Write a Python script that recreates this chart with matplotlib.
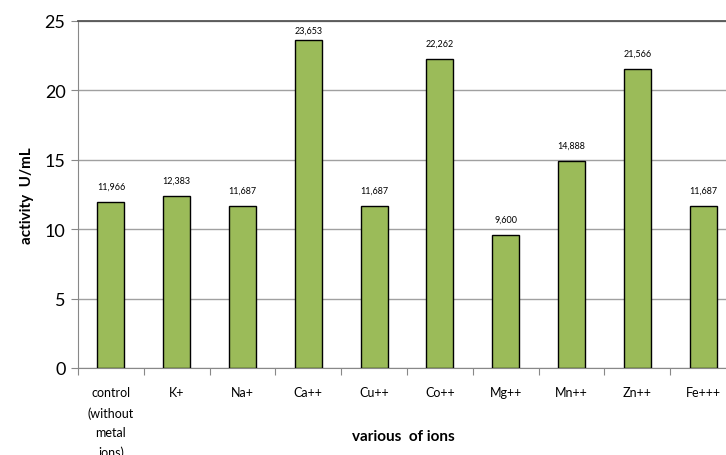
import matplotlib
matplotlib.use("Agg")
import matplotlib.pyplot as plt
import numpy as np

categories = ["control\n(without\nmetal\nions)", "K+", "Na+", "Ca++", "Cu++", "Co++", "Mg++", "Mn++", "Zn++", "Fe+++"]
values = [11.966, 12.383, 11.687, 23.653, 11.687, 22.262, 9.600, 14.888, 21.566, 11.687]
value_labels = ["11,966", "12,383", "11,687", "23,653", "11,687", "22,262", "9,600", "14,888", "21,566", "11,687"]

plt.rcParams['font.family'] = ['Lato', 'DejaVu Sans']

fig = plt.figure(figsize=(7.26, 4.56), dpi=100)
ax = fig.add_axes([78/726, (456-369)/456, (736-78)/726, (369-22)/456])

x = np.arange(len(categories))
ax.bar(x, values, width=0.41, color="#9BBB59", edgecolor="black", linewidth=1.0, zorder=3)

for xi, v, lab in zip(x, values, value_labels):
    y = v + 1.15
    if y > 24.6:
        y = 24.35
    ax.text(xi, y, lab, ha="center", va="center", fontsize=6.5, zorder=4)

ax.set_xlim(-0.5, len(categories) - 0.5)
ax.set_ylim(0, 25)
ax.set_yticks([0, 5, 10, 15, 20, 25])
ax.tick_params(axis="y", labelsize=13, length=5, width=0.8, color="#888888", pad=4)
ax.set_xticks(x)
ax.set_xticklabels(categories, fontsize=9, linespacing=1.75, va="top")
ax.set_xticks(np.arange(len(categories)) - 0.5, minor=True)
ax.tick_params(axis="x", which="major", length=0, pad=13)
ax.tick_params(axis="x", which="minor", length=5, width=0.8, color="#888888")

ax.yaxis.grid(True, color="#A0A0A0", linewidth=1.0, zorder=0)
ax.set_axisbelow(True)
for s in ["top", "right"]:
    ax.spines[s].set_color("#555555")
    ax.spines[s].set_linewidth(1.3)
ax.spines["left"].set_color("#888888")
ax.spines["bottom"].set_color("#888888")

ax.set_ylabel("activity  U/mL", fontsize=11, fontweight="bold", labelpad=8)
fig.text((78 + 736) / 2 / 726 - 0.005, 1 - 437/456, "various  of ions", fontsize=11, fontweight="bold", ha="center", va="center")

fig.savefig("out.png", dpi=100)
